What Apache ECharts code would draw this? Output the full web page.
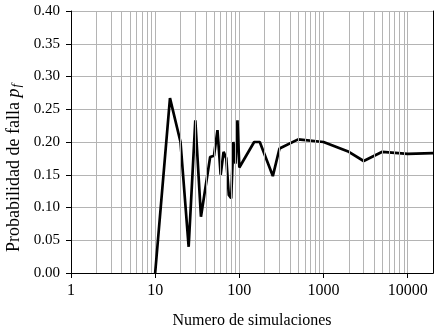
<!DOCTYPE html>
<html>
<head>
<meta charset="utf-8">
<script src="https://cdn.jsdelivr.net/npm/echarts@6/dist/echarts.min.js"></script>
<style>
  html, body { margin: 0; padding: 0; background: #fff; }
  #chart { width: 441px; height: 327px; }
</style>
</head>
<body>
<div id="chart"></div>
<script>
// datos
const simulaciones = [10, 15, 20, 25, 30, 35, 45, 50, 55, 60, 65, 70, 75, 80, 85, 90, 95, 100,
  150, 175, 250, 300, 500, 1000, 2000, 3000, 5000, 10000, 20000]
const probabilidad = [0, 0.267, 0.200, 0.040, 0.233, 0.086, 0.177, 0.179, 0.218, 0.150, 0.185,
  0.175, 0.119, 0.114, 0.200, 0.167, 0.233, 0.161, 0.200, 0.200, 0.148, 0.190, 0.204, 0.200,
  0.185, 0.171, 0.185, 0.182, 0.183]
// lineas menores de la rejilla (2..9 por decada)
const lineasMenores = [2, 3, 4, 5, 6, 7, 8, 9, 20, 30, 40, 50, 60, 70, 80, 90,
  200, 300, 400, 500, 600, 700, 800, 900, 2000, 3000, 4000, 5000, 6000, 7000, 8000, 9000]

const fuente = 'Liberation Serif'
const gris = '#b4b4b4'

const chart = echarts.init(document.getElementById('chart'))

const option = {
  animation: false,
  grid: { left: 71, right: 8, top: 11, bottom: 54, containLabel: false, outerBoundsMode: 'none' },
  xAxis: [
    {
      type: 'log',
      logBase: 10,
      min: 1,
      max: 20000,
      name: 'Numero de simulaciones',
      nameLocation: 'middle',
      nameGap: 40,
      nameTextStyle: { fontFamily: fuente, fontSize: 16, color: '#000' },
      axisLine: { lineStyle: { color: '#000', width: 1 } },
      axisTick: { show: true, length: 5, inside: false, lineStyle: { color: '#000' } },
      axisLabel: {
        fontFamily: fuente,
        fontSize: 16,
        color: '#000',
        margin: 10,
        showMaxLabel: false,
        formatter: (v) => String(Math.round(v))
      },
      splitLine: { show: true, lineStyle: { color: gris, width: 1 } }
    },
    {
      type: 'log',
      logBase: 10,
      min: 1,
      max: 20000,
      position: 'top',
      z: 5,
      axisLine: { show: true, lineStyle: { color: '#000', width: 1 } },
      axisTick: { show: false },
      axisLabel: { show: false },
      splitLine: { show: false }
    }
  ],
  yAxis: [
    {
      type: 'value',
      min: 0,
      max: 0.4,
      interval: 0.05,
      name: 'Probabilidad de falla {p|p}{f|f}',
      nameLocation: 'middle',
      nameGap: 42,
      nameTextStyle: {
        fontFamily: fuente,
        fontSize: 18,
        color: '#000',
        padding: [0, 52, 0, 0],
        rich: {
          p: { fontFamily: fuente, fontSize: 18, fontStyle: 'italic', color: '#000' },
          f: { fontFamily: fuente, fontSize: 13, fontStyle: 'italic', color: '#000', verticalAlign: 'bottom', padding: [5, 0, 0, 1] }
        }
      },
      axisLine: { show: true, lineStyle: { color: '#000', width: 1 } },
      axisTick: { show: true, length: 5, inside: false, lineStyle: { color: '#000' } },
      axisLabel: {
        fontFamily: fuente,
        fontSize: 15,
        color: '#000',
        margin: 11,
        formatter: (v) => v.toFixed(2)
      },
      splitLine: { show: true, lineStyle: { color: gris, width: 1 } }
    },
    {
      type: 'value',
      min: 0,
      max: 0.4,
      interval: 0.05,
      position: 'right',
      z: 5,
      axisLine: { show: true, lineStyle: { color: '#000', width: 1 } },
      axisTick: { show: false },
      axisLabel: { show: false },
      splitLine: { show: false }
    }
  ],
  series: [
    {
      type: 'line',
      data: [],
      silent: true,
      markLine: {
        silent: true,
        symbol: ['none', 'none'],
        label: { show: false },
        lineStyle: { color: gris, width: 1, type: 'solid' },
        data: lineasMenores.map((v) => ({ xAxis: v }))
      }
    },
    {
      type: 'line',
      data: simulaciones.map((s, i) => [s, probabilidad[i]]),
      showSymbol: false,
      symbol: 'none',
      lineStyle: { color: '#000', width: 2.7 },
      z: 3
    }
  ]
}

chart.setOption(option)
</script>
</body>
</html>
